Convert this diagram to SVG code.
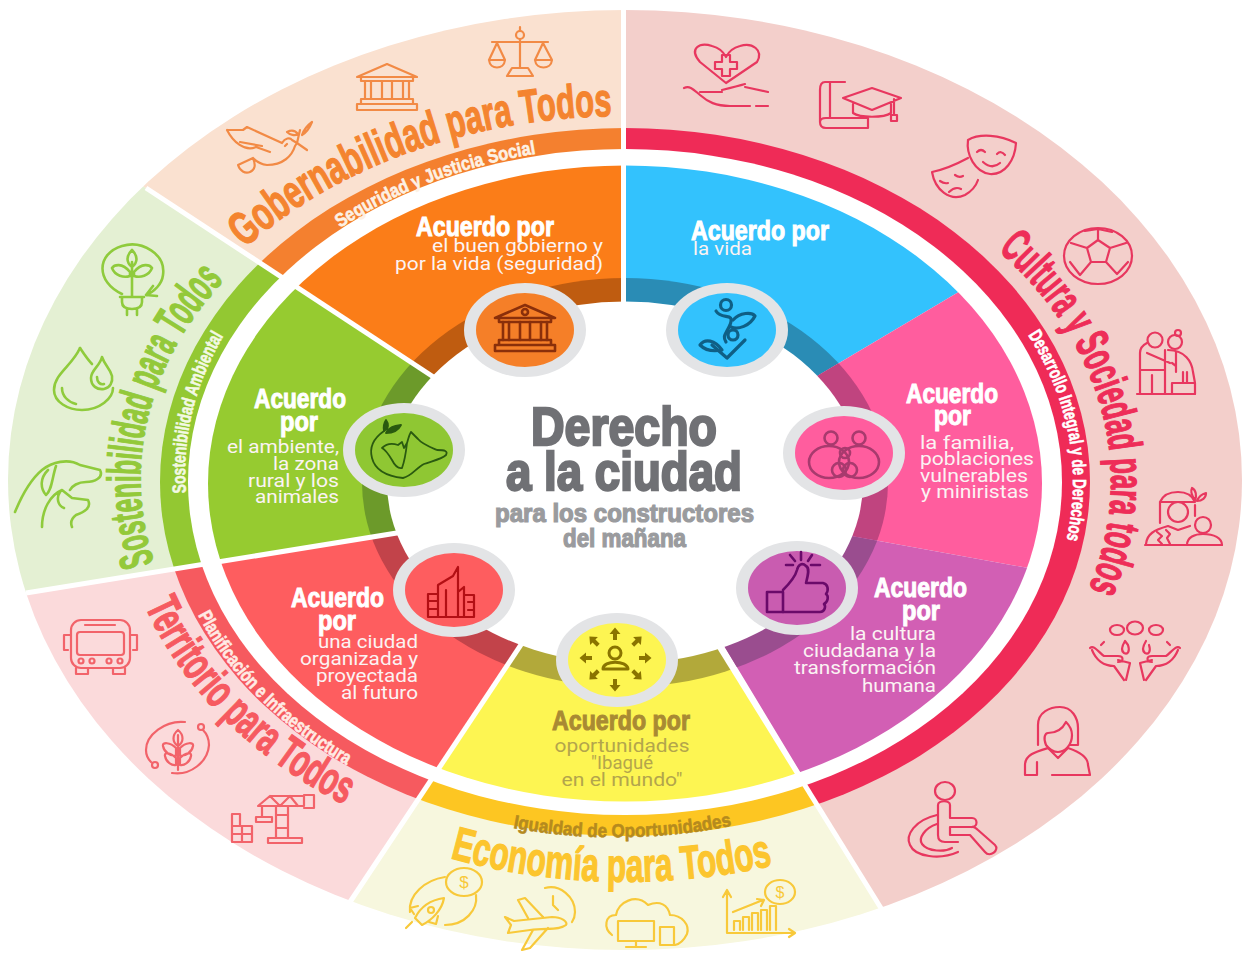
<svg xmlns="http://www.w3.org/2000/svg" width="1244" height="953" viewBox="0 0 1244 953">
<style>
.n{font-family:"Liberation Sans Narrow","Liberation Sans",sans-serif;font-weight:700}
.b{font-family:Roboto,"Liberation Sans",sans-serif;font-size:18px;font-weight:400;fill:#fbf3f3}
.h{font-size:27px;fill:#fff;stroke:#fff;stroke-width:1}
.big{fill:#707175;stroke:#707175;stroke-width:2.4;font-size:53px}
.sub{fill:#9a9b9e;stroke:#9a9b9e;stroke-width:1.2;font-size:25px}
.ct{font-size:47px;stroke-width:1.3}
.st{font-size:19px;stroke-width:.6}
.i{fill:none;stroke-width:2.2;stroke-linecap:round;stroke-linejoin:round}
.cr{stroke:#e8375f}.or{stroke:#f28a45}.gr{stroke:#8fcb3c}.re{stroke:#f2636a}.ye{stroke:#f8c93a}
.m{fill:none;stroke-width:2.6;stroke-linecap:round;stroke-linejoin:round}
.halo{fill:#e3e4e6}
.sep{stroke:#fff;stroke-width:5;fill:none}
</style>
<defs>
<clipPath id="cO"><polygon points="625,482 623.5,-10 -20,-10 -20,79 470,401"/></clipPath>
<clipPath id="cG"><polygon points="625,482 470,401 -20,79 -20,600 440,526"/></clipPath>
<clipPath id="cR"><polygon points="625,482 440,526 -20,600 278,1010 540,616"/></clipPath>
<clipPath id="cY"><polygon points="625,482 540,616 278,1010 950,1020 700,616"/></clipPath>
<clipPath id="cC"><polygon points="625,482 700,616 950,1020 1260,1020 1260,-10 623.5,-10"/></clipPath>
<clipPath id="cB"><polygon points="625,490 623.5,100 1100,100 1100,208"/></clipPath>
<clipPath id="cP"><polygon points="625,490 1100,208 1100,581 625,495"/></clipPath>
<clipPath id="cV"><polygon points="625,495 1100,581 1100,1020 950,1020 625,482"/></clipPath>
<ellipse id="eOut" cx="625" cy="480" rx="617" ry="470"/>
<ellipse id="eBand" cx="625" cy="482" rx="465" ry="354"/>
<ellipse id="eGap" cx="625" cy="482" rx="437" ry="333"/>
<ellipse id="eWedge" cx="625" cy="483.5" rx="417" ry="318"/>
<ellipse id="eRing" cx="625" cy="482.5" rx="263" ry="204.5"/>
<g id="temple"><path d="M3 14 33 1 63 14Z"/><path d="M7 14V18H59V14"/><path d="M11 18V36M17 18V36M28 18V36M38 18V36M49 18V36M55 18V36"/><path d="M7 36H59V41H7ZM3 41H63V47H3Z"/></g>
<path id="arr" d="M0-6.5-5.5 0H-2V6H2V0H5.500Z" fill="#8a7400"/>
<path id="tGob" d="M245 248A490 365 0 0 1 612 116"/>
<path id="tSeg" d="M340 228A450 340 0 0 1 534 154"/>
<path id="tSos" d="M154 563A470 350 0 0 1 232 272"/>
<path id="tAmb" d="M186 493A441 335 0 0 1 224 335"/>
<path id="tCul" d="M998 250A470 355 0 0 1 1084 600"/>
<path id="tDes" d="M1028 335A441 335 0 0 1 1066 542"/>
<path id="tTer" d="M145 606A506 391 0 0 0 345 805"/>
<path id="tPla" d="M198 615A460 350 0 0 0 345 764"/>
<path id="tEco" d="M450 858A520 400 0 0 0 770 866"/>
<path id="tIgu" d="M513 828A450 350 0 0 0 730 826"/>
</defs>

<g id="sector-gobernabilidad" clip-path="url(#cO)">
<use href="#eOut" fill="#fae1d0"/><use href="#eBand" fill="#f4802f"/><use href="#eGap" fill="#fff"/><use href="#eWedge" fill="#fb7d18"/><use href="#eRing" fill="#bf5c10"/>
</g>
<g id="sector-sostenibilidad" clip-path="url(#cG)">
<use href="#eOut" fill="#e4f0d3"/><use href="#eBand" fill="#93c832"/><use href="#eGap" fill="#fff"/><use href="#eWedge" fill="#96cb30"/><use href="#eRing" fill="#6c9a2a"/>
</g>
<g id="sector-territorio" clip-path="url(#cR)">
<use href="#eOut" fill="#fbdadb"/><use href="#eBand" fill="#f65a5f"/><use href="#eGap" fill="#fff"/><use href="#eWedge" fill="#fe5d5f"/><use href="#eRing" fill="#c2434a"/>
</g>
<g id="sector-economia" clip-path="url(#cY)">
<use href="#eOut" fill="#f7f7de"/><use href="#eBand" fill="#fdc622"/><use href="#eGap" fill="#fff"/><use href="#eWedge" fill="#fdf552"/><use href="#eRing" fill="#b2a93a"/>
</g>
<g id="sector-cultura" clip-path="url(#cC)">
<use href="#eOut" fill="#f3cfcb"/><use href="#eBand" fill="#ef2b57"/><use href="#eGap" fill="#fff"/>
<g clip-path="url(#cB)"><use href="#eWedge" fill="#33c2fd"/><use href="#eRing" fill="#2a8cb5"/></g>
<g clip-path="url(#cP)"><use href="#eWedge" fill="#ff5d9e"/><use href="#eRing" fill="#c0447f"/></g>
<g clip-path="url(#cV)"><use href="#eWedge" fill="#d25fb4"/><use href="#eRing" fill="#9a4d8f"/></g>
</g>
<g id="separators">
<path class="sep" d="M623.500 0V310"/>
<path class="sep" d="M146 188 470 401"/>
<path class="sep" d="M26 593 440 526"/>
<path class="sep" d="M348 905 540 616"/>
<path class="sep" d="M884 913 700 616"/>
</g>
<ellipse id="center-disc" cx="625" cy="482.500" rx="238" ry="181" fill="#fff"/>

<g id="center-title" class="n">
<text class="big" x="531" y="445" textLength="186" lengthAdjust="spacingAndGlyphs">Derecho</text>
<text class="big" x="506" y="490" textLength="236" lengthAdjust="spacingAndGlyphs">a la ciudad</text>
<text class="sub" x="495" y="522" textLength="259" lengthAdjust="spacingAndGlyphs">para los constructores</text>
<text class="sub" x="563" y="547" textLength="123" lengthAdjust="spacingAndGlyphs">del mañana</text>
</g>

<g id="band-labels" class="n">
<text class="ct" fill="#f4842f" stroke="#f4842f" textLength="398" lengthAdjust="spacingAndGlyphs"><textPath href="#tGob">Gobernabilidad para Todos</textPath></text>
<text class="st" fill="#fdf1e4" stroke="#fdf1e4" textLength="211" lengthAdjust="spacingAndGlyphs"><textPath href="#tSeg">Seguridad y Justicia Social</textPath></text>
<text class="ct" fill="#93c93a" stroke="#93c93a" textLength="306" lengthAdjust="spacingAndGlyphs"><textPath href="#tSos">Sostenibilidad para Todos</textPath></text>
<text class="st" fill="#f3f9e4" stroke="#f3f9e4" textLength="164" lengthAdjust="spacingAndGlyphs"><textPath href="#tAmb">Sostenibilidad Ambiental</textPath></text>
<text class="ct" fill="#ee2d58" stroke="#ee2d58" textLength="376" lengthAdjust="spacingAndGlyphs"><textPath href="#tCul">Cultura y Sociedad para todos</textPath></text>
<text class="st" fill="#fff" stroke="#fff" textLength="214" lengthAdjust="spacingAndGlyphs"><textPath href="#tDes">Desarrollo Integral y de Derechos</textPath></text>
<text class="ct" fill="#f65a60" stroke="#f65a60" textLength="287" lengthAdjust="spacingAndGlyphs"><textPath href="#tTer">Territorio para Todos</textPath></text>
<text class="st" fill="#ffeae4" stroke="#ffeae4" textLength="214" lengthAdjust="spacingAndGlyphs"><textPath href="#tPla">Planificación e Infraestructura</textPath></text>
<text class="ct" fill="#fcc52e" stroke="#fcc52e" textLength="326" lengthAdjust="spacingAndGlyphs"><textPath href="#tEco">Economía para Todos</textPath></text>
<text class="st" fill="#b58a1e" stroke="#b58a1e" textLength="220" lengthAdjust="spacingAndGlyphs"><textPath href="#tIgu">Igualdad de Oportunidades</textPath></text>
</g>

<g id="acuerdo-buen-gobierno">
<text class="n h" x="416" y="236" textLength="138" lengthAdjust="spacingAndGlyphs">Acuerdo por</text>
<g class="b" text-anchor="end"><text x="603" y="252" textLength="171" lengthAdjust="spacingAndGlyphs">el buen gobierno y</text><text x="603" y="269.500" textLength="208" lengthAdjust="spacingAndGlyphs">por la vida (seguridad)</text></g>
</g>
<g id="acuerdo-vida">
<text class="n h" x="691" y="240" textLength="138" lengthAdjust="spacingAndGlyphs">Acuerdo por</text>
<text class="b" x="693" y="255" textLength="59" lengthAdjust="spacingAndGlyphs">la vida</text>
</g>
<g id="acuerdo-familia">
<text class="n h" x="906" y="403" textLength="92" lengthAdjust="spacingAndGlyphs">Acuerdo</text>
<text class="n h" x="934" y="425" textLength="37" lengthAdjust="spacingAndGlyphs">por</text>
<g class="b"><text x="920" y="449" textLength="94" lengthAdjust="spacingAndGlyphs">la familia,</text><text x="920" y="465" textLength="114" lengthAdjust="spacingAndGlyphs">poblaciones</text><text x="920" y="482" textLength="108" lengthAdjust="spacingAndGlyphs">vulnerables</text><text x="921" y="498" textLength="108" lengthAdjust="spacingAndGlyphs">y miniristas</text></g>
</g>
<g id="acuerdo-cultura">
<text class="n h" x="874" y="597" textLength="93" lengthAdjust="spacingAndGlyphs">Acuerdo</text>
<text class="n h" x="902" y="620" textLength="38" lengthAdjust="spacingAndGlyphs">por</text>
<g class="b" text-anchor="end"><text x="936" y="640" textLength="86" lengthAdjust="spacingAndGlyphs">la cultura</text><text x="936" y="657" textLength="133" lengthAdjust="spacingAndGlyphs">ciudadana y la</text><text x="936" y="674" textLength="142" lengthAdjust="spacingAndGlyphs">transformación</text><text x="936" y="692" textLength="74" lengthAdjust="spacingAndGlyphs">humana</text></g>
</g>
<g id="acuerdo-oportunidades">
<text class="n h" style="fill:#a98a33;stroke:#a98a33" x="552" y="730" textLength="138" lengthAdjust="spacingAndGlyphs">Acuerdo por</text>
<g class="b" style="fill:#b3a54c" text-anchor="middle"><text x="622" y="752" textLength="135" lengthAdjust="spacingAndGlyphs">oportunidades</text><text x="622" y="769" textLength="62" lengthAdjust="spacingAndGlyphs">"Ibagué</text><text x="622" y="786" textLength="121" lengthAdjust="spacingAndGlyphs">en el mundo"</text></g>
</g>
<g id="acuerdo-ciudad">
<text class="n h" x="291" y="607" textLength="93" lengthAdjust="spacingAndGlyphs">Acuerdo</text>
<text class="n h" x="318" y="630" textLength="38" lengthAdjust="spacingAndGlyphs">por</text>
<g class="b" text-anchor="end"><text x="418" y="648" textLength="100" lengthAdjust="spacingAndGlyphs">una ciudad</text><text x="418" y="665" textLength="118" lengthAdjust="spacingAndGlyphs">organizada y</text><text x="418" y="682" textLength="102" lengthAdjust="spacingAndGlyphs">proyectada</text><text x="418" y="699" textLength="77" lengthAdjust="spacingAndGlyphs">al futuro</text></g>
</g>
<g id="acuerdo-ambiente">
<text class="n h" x="254" y="408" textLength="92" lengthAdjust="spacingAndGlyphs">Acuerdo</text>
<text class="n h" x="280" y="431" textLength="38" lengthAdjust="spacingAndGlyphs">por</text>
<g class="b" text-anchor="end"><text x="339" y="453" textLength="112" lengthAdjust="spacingAndGlyphs">el ambiente,</text><text x="339" y="470" textLength="66" lengthAdjust="spacingAndGlyphs">la zona</text><text x="339" y="487" textLength="91" lengthAdjust="spacingAndGlyphs">rural y los</text><text x="339" y="503" textLength="84" lengthAdjust="spacingAndGlyphs">animales</text></g>
</g>

<g id="medallion-gobierno"><ellipse class="halo" cx="525" cy="330" rx="61" ry="47"/><ellipse cx="525" cy="330" rx="49" ry="37" fill="#f57f28"/>
<use href="#temple" transform="translate(492 304)" class="m" stroke="#8a2f0a"/><circle cx="525" cy="312" r="3" class="m" stroke="#8a2f0a"/></g>
<g id="medallion-vida"><ellipse class="halo" cx="727" cy="330" rx="61" ry="47"/><ellipse cx="727" cy="330" rx="49" ry="37" fill="#33c2fd"/>
<g class="m" stroke="#0f5f85" style="stroke-width:3.200"><circle cx="726" cy="305" r="5.500"/><path d="M716 311C722 321 735 311 730 325 726 334 722 336 726 342"/><path d="M733 320C740 312 752 312 755 316 750 326 738 330 731 327"/><circle cx="733" cy="335" r="5"/><path d="M712 345 727 358 745 340"/><path d="M700 345C705 338 715 340 722 350 712 352 705 350 700 345Z"/></g></g>
<g id="medallion-ambiente"><ellipse class="halo" cx="404" cy="450" rx="61" ry="47"/><ellipse cx="404" cy="450" rx="49" ry="37" fill="#8fc733"/>
<g class="m" stroke="#2a5a10" style="stroke-width:1.800"><path d="M384 431C374 438 369 447 372 458 375 470 385 476 403 478 412 476 416 468 424 464 432 461 442 459 446 455 448 451 445 450 437 450 430 447 422 444 418 439L411 432C409 435 408 440 407 443 406 452 405 460 402 468 397 469 394 464 392 460 389 455 386 450 382 448 386 444 392 443 398 445L402 442 404 448 407 443"/><path d="M384 431C383 426 384 423 386 420 389 424 389 428 384 431ZM386 433C389 427 394 426 401 425 398 431 392 433 386 433Z" fill="#2a5a10"/></g></g>
<g id="medallion-familia"><ellipse class="halo" cx="844" cy="453" rx="61" ry="47"/><ellipse cx="844" cy="453" rx="49" ry="37" fill="#ff5d9e"/>
<g class="m" stroke="#a83a6e"><circle cx="831" cy="438" r="6.500"/><circle cx="859" cy="438" r="6.500"/><ellipse cx="829" cy="462" rx="20" ry="16"/><ellipse cx="859" cy="462" rx="20" ry="16"/><circle cx="845" cy="453" r="5"/><circle cx="839" cy="470" r="7"/><circle cx="850" cy="470" r="7"/></g></g>
<g id="medallion-ciudad"><ellipse class="halo" cx="454" cy="590" rx="61" ry="47"/><ellipse cx="454" cy="590" rx="49" ry="37" fill="#fe5d5f"/>
<g class="m" stroke="#b30f14" style="stroke-width:2.200"><path d="M428 617H474M428 617V594H438M428 601H438M428 609H438M438 617V585L453 576 458 567V617M458 592 464 587V617M464 595H474V617M468 602H474M468 610H474M446 617V590"/></g></g>
<g id="medallion-cultura"><ellipse class="halo" cx="797" cy="588" rx="61" ry="47"/><ellipse cx="797" cy="588" rx="49" ry="37" fill="#c95cb0"/>
<g class="m" stroke="#6a0a6a"><path d="M767 592H783V612H767Z"/><path d="M783 612H820C825 612 826 606 824 604 828 602 829 596 826 594 829 590 828 584 823 583H806C808 575 810 568 806 566 802 562 798 565 797 570 795 578 788 585 783 590"/><path d="M801 552V560M790 555 795 561M812 555 808 561M786 565H793M811 565H820"/></g></g>
<g id="medallion-oportunidades"><ellipse class="halo" cx="617" cy="660" rx="61" ry="47"/><ellipse cx="617" cy="660" rx="49" ry="37" fill="#fdf552"/>
<g class="m" stroke="#8a7400" style="stroke-width:3"><circle cx="615" cy="653" r="6"/><path d="M603 669C603 660 627 660 628 669Z"/></g>
<use href="#arr" transform="translate(615 634)"/><use href="#arr" transform="translate(615 685) rotate(180)"/><use href="#arr" transform="translate(586 658) rotate(-90)"/><use href="#arr" transform="translate(645 658) rotate(90)"/><use href="#arr" transform="translate(594 641) rotate(-45)"/><use href="#arr" transform="translate(637 641) rotate(45)"/><use href="#arr" transform="translate(594 675) rotate(-135)"/><use href="#arr" transform="translate(637 675) rotate(135)"/></g>

<g id="icons-cultura" class="i cr">
<g id="icon-salud"><path d="M726 83 700 62C688 48 700 42 712 46 720 48 724 53 726 57 728 53 732 48 740 46 752 42 764 50 757 62Z"/><path d="M722 58H730V65H737V72H730V79H722V72H715V65H722Z" transform="translate(0 -3)"/><path d="M684 88C690 85 694 90 700 95 708 102 716 106 730 106H750M756 106H768M700 92H722M722 90C730 88 738 86 745 84M745 87 768 92"/></g>
<g id="icon-educacion"><path d="M845 82H825C821 82 820 85 820 90V122C820 126 822 128 826 128H868V118M826 118H868M820 122C820 119 822 118 826 118M830 82V118"/><path d="M843 98 872 88 901 98 872 110ZM853 104V113C860 118 884 118 891 113V104M894 99V115M891 115H897V121H891Z"/></g>
<g id="icon-teatro"><path d="M968 140C980 133 1000 135 1016 143 1015 160 1005 175 990 174 975 172 966 155 968 140Z"/><path d="M977 152Q981 148 985 152M997 154Q1001 150 1005 155M983 162Q992 170 1000 163"/><path d="M968 158C955 165 942 170 932 172 935 190 950 202 965 195 972 191 976 186 978 180"/><path d="M940 181Q944 184 948 183M955 175Q959 178 963 176M949 192Q955 186 961 189"/></g>
<g id="icon-deporte"><ellipse cx="1098" cy="256" rx="34" ry="28"/><path d="M1087 248 1098 240 1110 248 1106 262H1091ZM1098 240V229M1110 248 1126 243M1106 262 1117 274M1091 262 1080 275M1087 248 1071 243M1070 262 1080 275M1117 274 1128 262M1085 231 1098 229 1112 232"/></g>
<g id="icon-mayores"><path d="M1137 394H1195"/><circle cx="1155" cy="340" r="7.500"/><circle cx="1175" cy="342" r="7"/><circle cx="1178" cy="333" r="3"/><path d="M1140 394V353C1140 348 1143 345 1147 343M1147 353 1170 363M1140 370H1165M1152 375V394M1165 350V394M1168 350C1185 350 1192 362 1193 372L1195 383V394M1172 383H1195M1172 383V394M1176 352V372M1183 372V382M1187 372V382M1172 363 1176 366"/></g>
<g id="icon-indigena"><circle cx="1178" cy="512" r="10"/><path d="M1160 502H1195M1160 502C1163 495 1170 492 1178 492 1186 492 1192 495 1195 502M1160 502V523M1195 505V516"/><path d="M1195 500C1192 496 1190 492 1192 488 1196 490 1197 496 1195 500ZM1197 501C1199 496 1202 494 1206 493 1206 498 1202 501 1197 501Z"/><path d="M1146 544C1147 534 1154 530 1168 526L1178 530 1190 526M1157 532 1162 536 1158 540 1162 544M1166 530 1170 534 1167 538 1170 544M1145 545H1222"/><circle cx="1203" cy="525" r="8"/><path d="M1187 545C1187 537 1195 534 1203 534 1214 534 1222 538 1222 545"/></g>
<g id="icon-solidaridad"><ellipse cx="1117" cy="630" rx="7" ry="5"/><ellipse cx="1135" cy="628" rx="8" ry="6.500"/><ellipse cx="1156" cy="630" rx="7" ry="5"/><path d="M1125 641C1122 646 1121 651 1124 653 1128 655 1130 651 1128 645ZM1146 641C1143 646 1142 651 1145 653 1149 655 1151 651 1149 645M1104 642 1101 645M1167 642 1170 645"/><path d="M1090 648C1094 644 1100 654 1104 656H1118C1124 656 1124 662 1118 662M1092 650C1096 660 1104 666 1114 666L1124 680M1118 660 1130 663 1126 680M1180 648C1176 644 1170 654 1166 656H1152C1146 656 1146 662 1152 662M1178 650C1174 660 1166 666 1156 666L1146 680M1152 660 1140 663 1144 680"/></g>
<g id="icon-mujer"><path d="M1038 745V725C1038 712 1050 707 1060 707 1072 707 1078 718 1078 728V745H1070"/><path d="M1046 745C1043 738 1045 733 1048 733 1056 733 1062 730 1066 722 1070 726 1072 730 1072 735 1072 745 1065 752 1058 752 1053 752 1049 749 1046 745Z"/><path d="M1025 775V765C1025 755 1035 752 1048 748L1058 758 1068 748C1080 752 1088 757 1088 765L1090 775H1052M1025 775H1037M1037 762V775"/></g>
<g id="icon-discapacidad"><ellipse cx="945" cy="791" rx="10" ry="9"/><path d="M938 805C938 800 950 800 950 805V818H972C978 818 978 827 972 827H950V835H970L985 852C990 858 1000 850 995 845L978 830C976 828 974 826 972 827M938 805V835C938 840 940 842 945 842H958"/><path d="M937 815C915 820 905 835 910 845 915 857 940 860 958 852M937 824C925 828 918 838 922 844 928 852 945 852 952 848"/></g>
</g>

<g id="icons-gobernabilidad" class="i or">
<g id="icon-balanza"><circle cx="520" cy="35" r="4"/><path d="M520 27V31M520 39V68M507 76H533L528 68H512ZM492 42H548M497 43 489 60H505ZM543 43 535 60H552ZM489 60C490 70 504 70 505 60M535 60C536 70 551 70 552 60"/></g>
<use id="icon-templo" href="#temple" transform="translate(354 63)"/>
<g id="icon-paloma"><path d="M227 130 243 130 247 127 282 143C285 138 290 137 292 140L297 143 295 146C292 156 283 165 267 165 260 164 256 161 253 158L238 165C240 171 245 174 250 172 255 170 256 165 253 158M227 130C233 142 245 152 256 147L270 152M240 142 262 146M287 144 285 146"/><path d="M297 143 307 150M297 143 300 130M302 135C304 129 308 125 312 122 310 127 307 132 302 135ZM298 134C295 130 291 130 287 132 290 135 295 136 298 134Z"/></g>
</g>

<g id="icons-sostenibilidad" class="i gr" style="stroke-width:2.600">
<g id="icon-planta"><path d="M122 294C96 282 96 254 122 246 142 240 166 254 163 275 162 284 154 292 146 295M146 295 153 286M146 295 157 296M132 296V262M132 250C126 256 126 262 132 267 138 262 138 256 132 250ZM130 272C122 262 114 265 112 268 115 276 124 278 130 276ZM134 272C142 262 150 265 152 268 149 276 140 278 134 276Z"/><path d="M120 297H144M122 297V302C122 308 128 309 132 309 136 309 142 308 142 302V297M127 309V315M137 309V315"/></g>
<g id="icon-agua"><path d="M80 348C72 366 54 374 54 390 54 402 68 410 82 410 100 410 113 398 113 388"/><path d="M80 348C84 354 88 360 92 364"/><path d="M102 357C100 366 91 370 91 378 91 386 97 390 104 389 110 388 113 382 112 376 110 368 105 366 102 357ZM62 388C62 396 68 402 76 404M97 377C97 382 100 385 104 384"/></g>
<g id="icon-animales"><path d="M15 512C22 495 30 480 42 470 52 462 68 458 80 465L100 470C104 478 94 482 86 482 78 482 72 486 70 490M48 470C40 478 40 488 46 495 52 490 52 478 56 466"/><path d="M42 527C42 510 50 495 62 490L72 498 88 500C92 508 84 512 76 515 72 518 70 522 72 527M60 492C56 498 58 506 64 508"/></g>
</g>

<g id="icons-territorio" class="i re">
<g id="icon-bus"><rect x="71" y="620" width="59" height="48" rx="10"/><rect x="77" y="632" width="47" height="23" rx="3"/><path d="M85 625H115M71 635H64V650H68M130 635H137V650H133M76 668V674H88V668M113 668V674H125V668"/><circle cx="81" cy="661" r="2.500"/><circle cx="92" cy="661" r="2.500"/><circle cx="109" cy="661" r="2.500"/><circle cx="120" cy="661" r="2.500"/></g>
<g id="icon-agro"><path d="M185 722C165 720 146 735 146 750 146 755 148 759 151 762M172 773C190 776 208 762 209 745 209 738 206 733 203 730"/><circle cx="155" cy="765" r="3"/><circle cx="201" cy="727" r="3"/><path d="M178 735V770M178 730C172 735 172 742 178 746 184 742 184 735 178 730ZM176 748C170 742 162 742 163 746 164 752 170 756 176 756ZM180 748C186 742 194 742 193 746 192 752 186 756 180 756ZM176 758C170 752 164 752 165 756 166 762 172 766 176 765ZM180 758C186 752 192 752 191 756 190 762 184 766 180 765Z"/></g>
<g id="icon-grua"><path d="M258 806 270 796H304V806ZM270 796 280 806 290 796 298 806M304 795H314V808H304M276 806V838M288 806V838M276 815H288M276 828H288M268 838H302V843H268ZM262 806V817M256 817H272V822H256ZM232 814V842H252V826H240V814ZM232 826H240M232 834H252M242 826V842"/></g>
</g>

<g id="icons-economia" class="i ye">
<g id="icon-cohete"><ellipse cx="464" cy="882" rx="18" ry="14"/><path d="M445 877C425 880 408 895 410 912M476 895C478 910 465 925 445 925M444 898C430 900 420 908 415 918L422 925C432 920 442 910 444 898ZM418 906 410 908 414 914M438 916 436 924 429 922M412 922 406 928"/><circle cx="431" cy="910" r="3"/></g>
<text x="464" y="888" text-anchor="middle" font-family="Liberation Sans,sans-serif" font-size="17" fill="#f8c93a" stroke="none">$</text>
<g id="icon-avion"><path d="M545 888C560 884 575 897 575 912 575 916 574 919 572 922M553 896V905L558 910M505 917 514 921 552 917C562 917 568 922 566 925 560 930 548 928 530 930L508 933 511 925ZM528 918 518 900 525 898 543 917M533 930 522 950 530 948 548 928"/></g>
<g id="icon-nube"><path d="M612 935C603 928 605 915 616 915 618 902 636 893 648 905 660 900 668 905 670 915 682 915 690 925 687 934 684 940 680 944 675 945"/><rect x="618" y="921" width="36" height="20"/><path d="M636 941V946M626 947H646"/><rect x="660" y="927" width="14" height="18"/></g>
<g id="icon-grafica"><path d="M727 893V933H793M723 897 727 890 731 897M789 929 795 933 789 937M733 912 763 900M757 899 764 900 761 906M734 930V921H740V930M743 930V917H749V930M752 930V913H758V930M761 930V910H767V930"/><ellipse cx="780" cy="892" rx="15" ry="12"/><path d="M770 930V906H776V930"/></g>
<text x="780" y="898" text-anchor="middle" font-family="Liberation Sans,sans-serif" font-size="16" fill="#f8c93a" stroke="none">$</text>
</g>
</svg>
